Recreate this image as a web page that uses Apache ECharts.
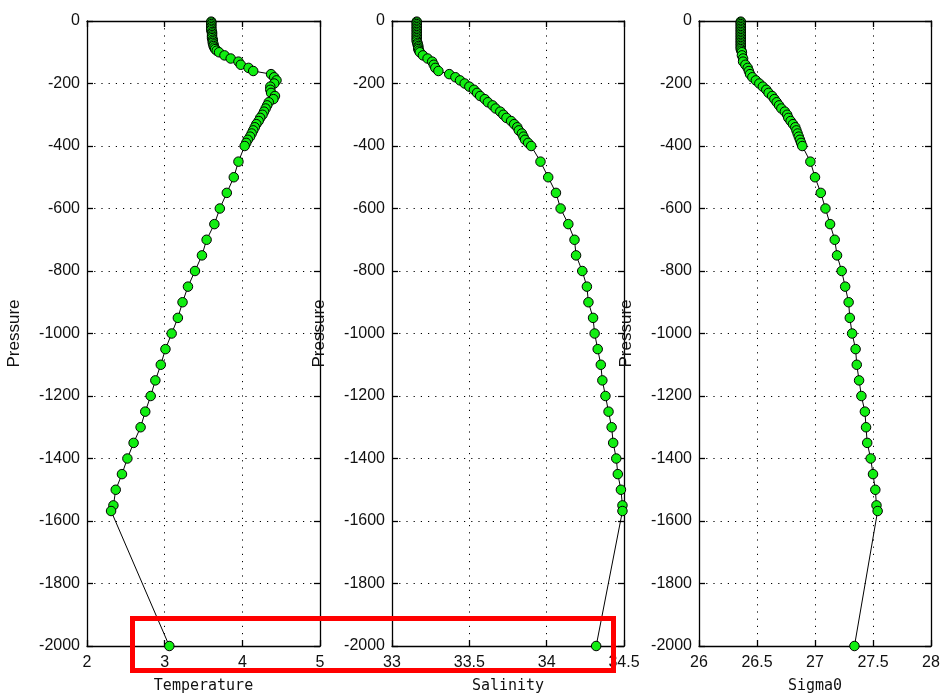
<!DOCTYPE html>
<html>
<head>
<meta charset="utf-8">
<script src="https://cdn.jsdelivr.net/npm/echarts@6/dist/echarts.min.js"></script>
<style>html,body{margin:0;padding:0;background:#fff}#c{width:941px;height:695px}</style>
</head>
<body>
<div id="c"></div>
<script>
// Pressure levels (dbar), plotted as negative values
const pressure = [2,5,10,15,20,25,30,35,40,45,50,55,60,65,70,75,80,85,90,95,100,
  110,120,130,140,150,160,170,180,190,200,210,220,230,240,250,260,270,280,290,300,
  310,320,330,340,350,360,370,380,390,400,
  450,500,550,600,650,700,750,800,850,900,950,1000,1050,1100,1150,1200,1250,1300,1350,1400,1450,1500,1550,
  1568,2000];

const temperature = [3.60,3.60,3.60,3.60,3.60,3.60,3.60,3.61,3.61,3.61,3.61,3.61,3.62,3.62,3.62,3.63,3.63,3.64,3.65,3.67,3.70,
  3.77,3.85,3.95,3.98,4.08,4.14,4.37,4.41,4.44,4.41,4.36,4.36,4.37,4.42,4.40,4.34,4.32,4.30,4.28,4.26,
  4.23,4.21,4.18,4.16,4.14,4.12,4.10,4.07,4.05,4.03,
  3.95,3.89,3.80,3.71,3.64,3.54,3.48,3.39,3.30,3.23,3.17,3.09,3.01,2.95,2.88,2.82,2.75,2.69,2.60,2.52,2.45,2.37,2.34,
  2.31,3.06];

const salinity = [33.16,33.16,33.16,33.16,33.16,33.16,33.16,33.16,33.16,33.16,33.16,33.16,33.16,33.16,33.165,33.165,33.17,33.17,33.17,33.175,33.18,
  33.20,33.23,33.26,33.27,33.28,33.30,33.37,33.41,33.44,33.47,33.50,33.53,33.55,33.57,33.60,33.62,33.65,33.67,33.70,33.72,
  33.74,33.77,33.79,33.81,33.82,33.84,33.85,33.86,33.88,33.90,
  33.96,34.01,34.06,34.09,34.14,34.18,34.19,34.23,34.26,34.27,34.30,34.31,34.33,34.35,34.36,34.38,34.40,34.42,34.43,34.45,34.46,34.48,34.49,
  34.49,34.32];

const sigma0 = [26.36,26.36,26.36,26.36,26.36,26.36,26.36,26.36,26.36,26.36,26.36,26.36,26.36,26.36,26.36,26.36,26.36,26.36,26.36,26.365,26.37,
  26.37,26.38,26.38,26.40,26.42,26.43,26.44,26.46,26.49,26.52,26.55,26.58,26.60,26.63,26.65,26.67,26.69,26.71,26.74,26.76,
  26.77,26.79,26.81,26.83,26.84,26.85,26.86,26.87,26.88,26.89,
  26.96,27.00,27.05,27.09,27.13,27.17,27.19,27.23,27.26,27.29,27.30,27.32,27.35,27.36,27.38,27.40,27.43,27.44,27.45,27.48,27.50,27.52,27.53,
  27.54,27.34];

const panelNames = ['Temperature','Salinity','Sigma0'];
const xMins = [2, 33, 26];
const xMaxs = [5, 34.5, 28];
const xIntervals = [1, 0.5, 0.5];
const yName = 'Pressure';
const yMin = -2000, yMax = 0, yInterval = 200;

const profiles = [temperature, salinity, sigma0];
const lefts = [87, 392, 699];
const widths = [233, 232, 232];

const MONO = 'DejaVu Sans Mono';
const SANS = 'Liberation Sans';
const grids = [], xAxes = [], yAxes = [], series = [];
const axisLineStyle = {color:'#000', width:1.3};
const tickStyle = {inside:true, length:6, lineStyle:{color:'#000', width:1.3}};
const fmt = v => String(v);

for (let i = 0; i < 3; i++) {
  grids.push({left: lefts[i], top: 21, width: widths[i], height: 625, containLabel:false, outerBoundsMode:'none'});
  xAxes.push({
    gridIndex:i, type:'value', position:'bottom', min:xMins[i], max:xMaxs[i], interval:xIntervals[i],
    name: panelNames[i], nameLocation:'middle', nameGap:33,
    nameTextStyle:{fontFamily:MONO, fontSize:15, color:'#111'},
    axisLine:{onZero:false, lineStyle:axisLineStyle},
    axisTick:tickStyle,
    axisLabel:{formatter:fmt, margin:9, fontFamily:SANS, fontSize:16, color:'#111'},
    splitLine:{show:true, lineStyle:{color:'#000', width:1, type:[1.2,6]}}
  });
  xAxes.push({
    gridIndex:i, type:'value', position:'top', min:xMins[i], max:xMaxs[i], interval:xIntervals[i],
    axisLine:{onZero:false, lineStyle:axisLineStyle},
    axisTick:tickStyle, axisLabel:{show:false}, splitLine:{show:false}
  });
  yAxes.push({
    gridIndex:i, type:'value', position:'left', min:yMin, max:yMax, interval:yInterval,
    name: yName, nameLocation:'middle', nameRotate:90, nameGap:64,
    nameTextStyle:{fontFamily:SANS, fontSize:17, color:'#111'},
    axisLine:{onZero:false, lineStyle:axisLineStyle},
    axisTick:tickStyle,
    axisLabel:{formatter:fmt, margin:7, fontFamily:SANS, fontSize:16, color:'#111'},
    splitLine:{show:true, lineStyle:{color:'#000', width:1, type:[1.2,6]}}
  });
  yAxes.push({
    gridIndex:i, type:'value', position:'right', min:yMin, max:yMax, interval:yInterval,
    axisLine:{onZero:false, lineStyle:axisLineStyle},
    axisTick:tickStyle, axisLabel:{show:false}, splitLine:{show:false}
  });
  series.push({
    type:'line', xAxisIndex:2*i, yAxisIndex:2*i,
    data: profiles[i].map((v, k) => [v, -pressure[k]]),
    symbol:'circle', symbolSize:9.5, showAllSymbol:true, clip:false,
    lineStyle:{color:'#000', width:1},
    itemStyle:{color:'#11ee11', borderColor:'#000', borderWidth:1},
    emphasis:{disabled:true}
  });
}

const chart = echarts.init(document.getElementById('c'), null, {renderer:'canvas'});
chart.setOption({
  backgroundColor:'#fff',
  animation:false,
  grid: grids, xAxis: xAxes, yAxis: yAxes, series: series,
  graphic:[{
    type:'rect', z:100,
    shape:{x:132.5, y:618.5, width:481, height:52},
    style:{fill:'none', stroke:'#ff0000', lineWidth:5}
  }]
});
</script>
</body>
</html>
